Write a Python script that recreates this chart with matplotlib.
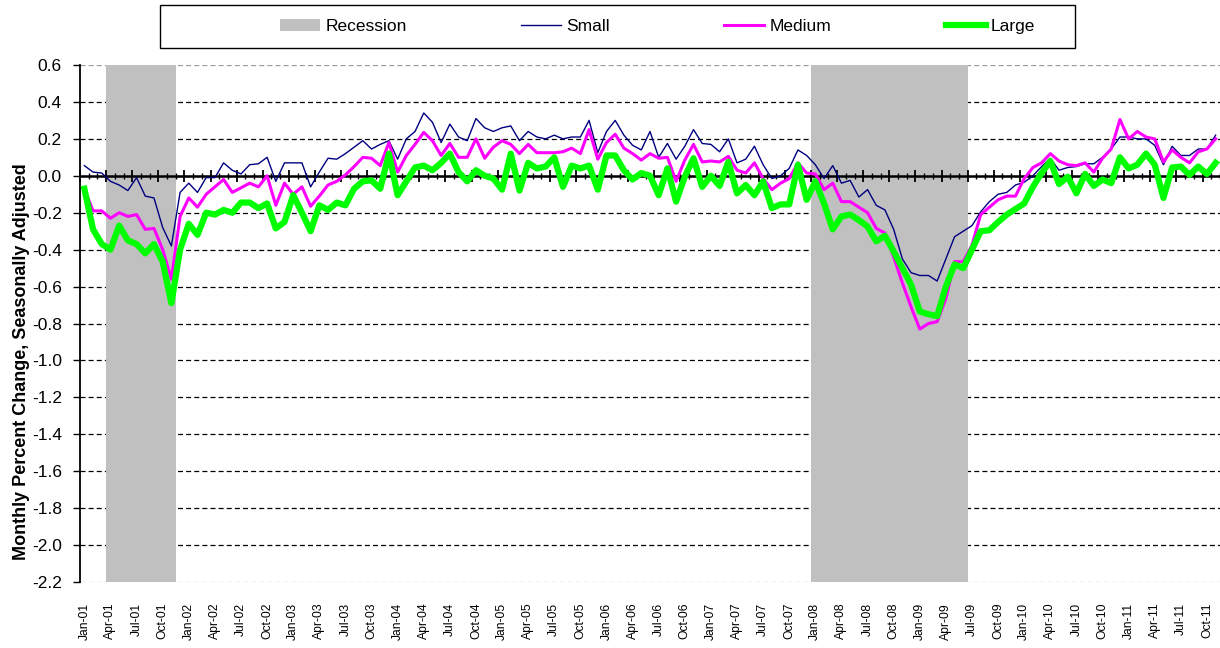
import matplotlib
matplotlib.use("Agg")
import matplotlib.pyplot as plt
import numpy as np
import pandas as pd
from matplotlib.lines import Line2D
from matplotlib.patches import Patch, Rectangle
from matplotlib.ticker import FormatStrFormatter

plt.rcParams["font.family"] = ["Liberation Sans", "DejaVu Sans"]

# monthly categories, Jan-01 .. Nov-11
months = pd.date_range("2001-01-01", periods=131, freq="MS").strftime("%b-%y").tolist()

small = [
    0.055, 0.02, 0.015, -0.03, -0.05, -0.08, -0.01, -0.11, -0.12, -0.28, -0.38, -0.09,
    -0.04, -0.09, -0.01, -0.01, 0.07, 0.03, 0.01, 0.06, 0.065, 0.10, -0.03, 0.07,
    0.07, 0.07, -0.06, 0.02, 0.095, 0.09, 0.12, 0.155, 0.19, 0.145, 0.17, 0.19,
    0.09, 0.20, 0.24, 0.34, 0.29, 0.18, 0.28, 0.21, 0.19, 0.31, 0.26, 0.24,
    0.26, 0.27, 0.19, 0.24, 0.21, 0.20, 0.22, 0.20, 0.21, 0.21, 0.30, 0.125,
    0.24, 0.30, 0.22, 0.165, 0.14, 0.24, 0.10, 0.175, 0.09, 0.16, 0.25, 0.175,
    0.17, 0.13, 0.20, 0.07, 0.09, 0.16, 0.06, -0.015, 0.0, 0.04, 0.14, 0.11,
    0.06, -0.015, 0.055, -0.04, -0.025, -0.115, -0.075, -0.16, -0.185, -0.29, -0.45, -0.525,
    -0.54, -0.54, -0.57, -0.45, -0.33, -0.30, -0.27, -0.195, -0.14, -0.10, -0.09, -0.05,
    -0.035, 0.0, 0.05, 0.095, 0.03, 0.045, 0.05, 0.065, 0.065, 0.10, 0.145, 0.21,
    0.21, 0.20, 0.20, 0.165, 0.06, 0.16, 0.11, 0.11, 0.145, 0.145, 0.22,
]

medium = [
    -0.07, -0.19, -0.19, -0.23, -0.20, -0.22, -0.21, -0.29, -0.285, -0.40, -0.56, -0.22,
    -0.12, -0.17, -0.10, -0.06, -0.02, -0.09, -0.065, -0.04, -0.06, 0.0, -0.16, -0.04,
    -0.10, -0.06, -0.165, -0.11, -0.05, -0.03, 0.005, 0.05, 0.10, 0.095, 0.055, 0.18,
    0.02, 0.11, 0.17, 0.235, 0.19, 0.11, 0.175, 0.10, 0.10, 0.20, 0.095, 0.155,
    0.19, 0.17, 0.12, 0.17, 0.125, 0.125, 0.125, 0.13, 0.15, 0.12, 0.25, 0.09,
    0.18, 0.225, 0.15, 0.12, 0.085, 0.12, 0.095, 0.10, -0.03, 0.085, 0.17, 0.075,
    0.08, 0.075, 0.105, 0.03, 0.015, 0.07, -0.015, -0.075, -0.04, -0.015, 0.07, 0.015,
    0.01, -0.075, -0.04, -0.14, -0.14, -0.17, -0.20, -0.285, -0.31, -0.44, -0.58, -0.71,
    -0.83, -0.80, -0.79, -0.665, -0.465, -0.465, -0.375, -0.21, -0.17, -0.13, -0.11, -0.11,
    -0.015, 0.045, 0.07, 0.12, 0.08, 0.06, 0.055, 0.07, 0.02, 0.095, 0.145, 0.305,
    0.20, 0.24, 0.21, 0.20, 0.075, 0.14, 0.10, 0.07, 0.13, 0.145, 0.20,
]

large = [
    -0.07, -0.29, -0.37, -0.40, -0.27, -0.35, -0.37, -0.42, -0.37, -0.465, -0.69, -0.40,
    -0.26, -0.32, -0.20, -0.21, -0.185, -0.20, -0.145, -0.145, -0.175, -0.15, -0.285, -0.25,
    -0.105, -0.20, -0.30, -0.16, -0.185, -0.145, -0.16, -0.07, -0.03, -0.025, -0.07, 0.12,
    -0.105, -0.03, 0.045, 0.055, 0.03, 0.07, 0.12, 0.02, -0.03, 0.03, 0.0, -0.015,
    -0.075, 0.12, -0.08, 0.07, 0.04, 0.05, 0.10, -0.06, 0.055, 0.04, 0.055, -0.075,
    0.11, 0.11, 0.03, -0.02, 0.015, 0.0, -0.105, 0.04, -0.14, -0.005, 0.095, -0.06,
    0.0, -0.055, 0.075, -0.095, -0.05, -0.105, -0.03, -0.175, -0.155, -0.155, 0.06, -0.13,
    -0.03, -0.15, -0.29, -0.22, -0.21, -0.24, -0.275, -0.355, -0.325, -0.41, -0.50, -0.59,
    -0.735, -0.75, -0.76, -0.60, -0.48, -0.50, -0.40, -0.30, -0.295, -0.25, -0.21, -0.18,
    -0.15, -0.06, 0.015, 0.08, -0.045, -0.005, -0.095, 0.01, -0.055, -0.02, -0.04, 0.10,
    0.04, 0.06, 0.12, 0.06, -0.12, 0.045, 0.05, 0.005, 0.05, 0.01, 0.07,
]

recession_periods = [("Apr-01", "Nov-01"), ("Jan-08", "Jun-09")]

y_min, y_max = -2.2, 0.6

x = np.arange(len(months))
recession = np.zeros(len(months))
for start, end in recession_periods:
    recession[months.index(start):months.index(end) + 1] = 1

fig = plt.figure(figsize=(12.2, 6.48), dpi=100)
ax = fig.add_axes([80 / 1220, 1 - 582 / 648, 1140 / 1220, 517 / 648])
ax.set_axisbelow(True)

ax.bar(x, recession * (y_max - y_min), bottom=y_min, width=1.0,
       color="#C0C0C0", linewidth=0, zorder=1)

ax.plot(x, small, color="#000080", linewidth=1.0, zorder=3)
ax.plot(x, medium, color="#FF00FF", linewidth=2.2, zorder=4, solid_joinstyle="round")
ax.plot(x, large, color="#00FF00", linewidth=4.5, zorder=5, solid_joinstyle="round")

ax.set_xlim(-0.5, len(months) - 0.5)
ax.set_ylim(y_min, y_max)
ax.set_yticks(np.round(np.arange(y_min, y_max + 0.01, 0.2), 1))
ax.yaxis.set_major_formatter(FormatStrFormatter("%.1f"))
ax.grid(axis="y", color="black", linestyle=(0, (4, 2.5)), linewidth=0.9)
grid_lines = ax.yaxis.get_gridlines()
grid_lines[0].set_color("#999999")
grid_lines[-1].set_color("#999999")

ax.set_xticks(x[::3])
ax.set_xticklabels(months[::3], rotation=90, fontsize=8.7)
ax.tick_params(axis="x", length=0, pad=15)
ax.tick_params(axis="y", direction="out", length=5, width=1, labelsize=12.5, pad=8)

for side in ["top", "right", "bottom"]:
    ax.spines[side].set_visible(False)
ax.spines["left"].set_linewidth(1.3)

# horizontal axis crossing at zero, tick marks between months
zero_axis = ax.secondary_xaxis(0, transform=ax.transData)
zero_axis.set_zorder(2)
zero_axis.set_xticks(np.arange(-0.5, len(months), 3))
zero_axis.set_xticks(np.arange(-0.5, len(months), 1), minor=True)
zero_axis.tick_params(which="major", direction="inout", length=9, width=1.3, labelbottom=False)
zero_axis.tick_params(which="minor", direction="inout", length=5, width=1.0)
zero_axis.spines["bottom"].set_linewidth(1.8)

ax.set_ylabel("Monthly Percent Change, Seasonally Adjusted", fontsize=13, fontweight="bold")
ax.yaxis.set_label_coords(-0.044, 0.427)

handles = [
    Patch(facecolor="#C0C0C0", edgecolor="none"),
    Line2D([], [], color="#000080", linewidth=1.0),
    Line2D([], [], color="#FF00FF", linewidth=2.2),
    Line2D([], [], color="#00FF00", linewidth=4.5),
]
fig.legend(handles, ["Recession", "Small", "Medium", "Large"], loc="center left",
           bbox_to_anchor=(280 / 1220, 1 - 26.5 / 648), ncol=4, frameon=False,
           fontsize=12.5, handlelength=2.3, handletextpad=0.3, columnspacing=6.6,
           borderpad=0, borderaxespad=0)
fig.add_artist(Rectangle((160 / 1220, 1 - 48 / 648), 915 / 1220, 43 / 648,
                         transform=fig.transFigure, fill=False,
                         edgecolor="black", linewidth=1.0))

fig.savefig("out.png", dpi=100)
